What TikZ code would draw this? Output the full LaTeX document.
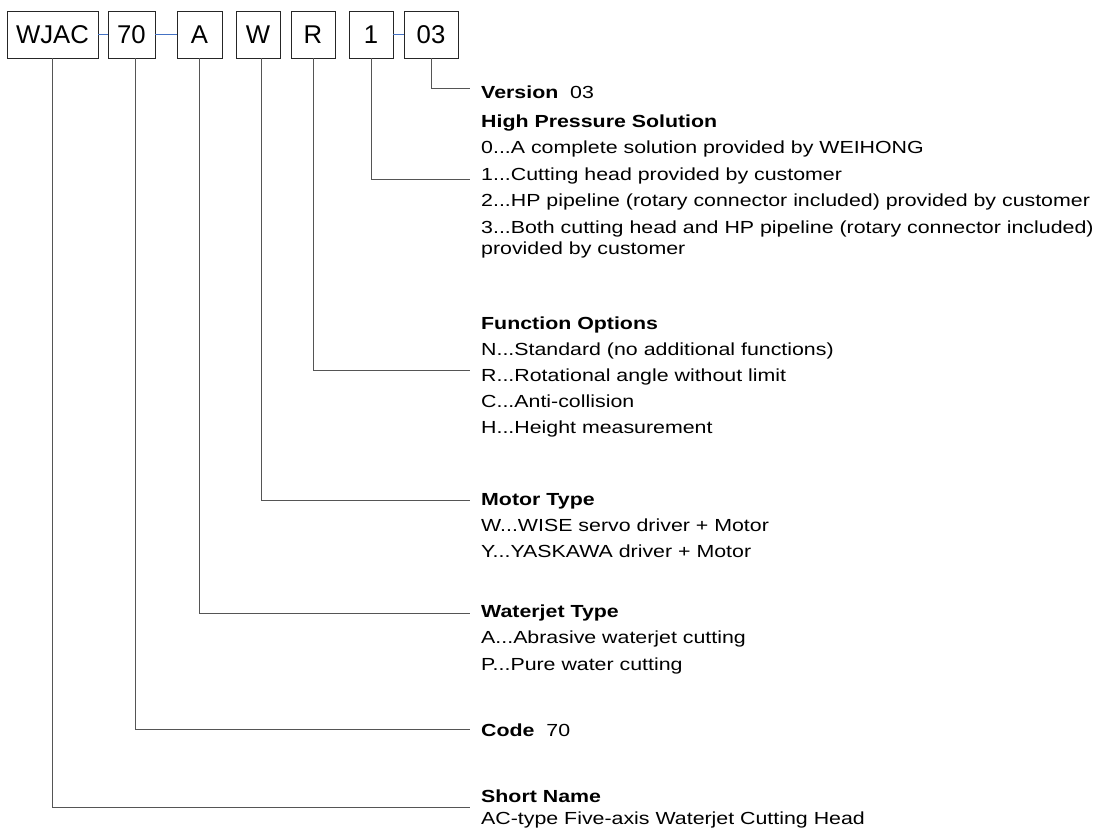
\documentclass[tikz,border=0pt]{standalone}
\usepackage{fontspec}
\setmainfont{Liberation Sans}
\newfontfamily\lblfont{Liberation Sans}[FakeStretch=1.22]
\definecolor{leadgray}{RGB}{85,85,85}
\definecolor{linkblue}{RGB}{68,114,196}
\tikzset{
  codebox/.style={draw=black!85, line width=0.9pt, minimum height=47pt, inner sep=0pt,
    font=\fontsize{25.7}{28}\selectfont},
  leader/.style={leadgray, line width=1pt},
  link/.style={linkblue, line width=0.9pt},
  lbl/.style={anchor=west, inner sep=0pt, text height=12.6pt, text depth=0pt,
    font=\lblfont\fontsize{17.5}{20}\selectfont}
}
\begin{document}
\begin{tikzpicture}[x=1pt,y=-1pt]
  \useasboundingbox (0,0) rectangle (1098,832);

  % --- 1. 型番の枠 ---
  \node[codebox, minimum width=91pt] (wjac)    at (52.5,34.5)  {WJAC};
  \node[codebox, minimum width=47pt] (seventy) at (131.5,34.5) {70};
  \node[codebox, minimum width=45pt] (jet)     at (199.5,34.5) {A};
  \node[codebox, minimum width=44pt] (motor)   at (258,34.5)   {W};
  \node[codebox, minimum width=44pt] (func)    at (313,34.5)   {R};
  \node[codebox, minimum width=44pt] (hpsol)   at (371,34.5)   {1};
  \node[codebox, minimum width=54pt] (ver)     at (431,34.5)   {03};
  % 枠どうしのハイフン
  \draw[link] (wjac) -- (seventy);
  \draw[link] (seventy) -- (jet);
  \draw[link] (hpsol) -- (ver);

  % --- 2. 説明文 ---
  \node[lbl] (verlbl) at (481,92) {\textbf{Version}\ \ 03};
  \node[lbl] (hpslbl) at (481,121) {\textbf{High Pressure Solution}};
  \node[lbl] (hpsa) at (481,147) {0...A complete solution provided by WEIHONG};
  \node[lbl] (hpsb) at (481,174) {1...Cutting head provided by customer};
  \node[lbl] (hpsc) at (481,200) {2...HP pipeline (rotary connector included) provided by customer};
  \node[lbl] (hpsd) at (481,227) {3...Both cutting head and HP pipeline (rotary connector included)};
  \node[lbl] (hpse) at (481,248) {provided by customer};

  \node[lbl] (funclbl) at (481,323) {\textbf{Function Options}};
  \node[lbl] (funca) at (481,349) {N...Standard (no additional functions)};
  \node[lbl] (funcb) at (481,375) {R...Rotational angle without limit};
  \node[lbl] (funcc) at (481,401) {C...Anti-collision};
  \node[lbl] (funcd) at (481,427) {H...Height measurement};

  \node[lbl] (motorlbl) at (481,499) {\textbf{Motor Type}};
  \node[lbl] (motora) at (481,525) {W...WISE servo driver + Motor};
  \node[lbl] (motorb) at (481,551) {Y...YASKAWA driver + Motor};

  \node[lbl] (jetlbl) at (481,611) {\textbf{Waterjet Type}};
  \node[lbl] (jeta) at (481,637) {A...Abrasive waterjet cutting};
  \node[lbl] (jetb) at (481,664) {P...Pure water cutting};

  \node[lbl] (codelbl) at (481,730) {\textbf{Code}\ \ 70};

  \node[lbl] (namelbl) at (481,796) {\textbf{Short Name}};
  \node[lbl] (namea) at (481,818) {AC-type Five-axis Waterjet Cutting Head};

  % --- 3. 引出線 ---
  \coordinate (verend)   at (470,89);
  \coordinate (hpsend)   at (470,180);
  \coordinate (funcend)  at (470,370);
  \coordinate (motorend) at (470,500);
  \coordinate (jetend)   at (470,613);
  \coordinate (codeend)  at (470,729);
  \coordinate (nameend)  at (470,807);
  \draw[leader] (ver.south) |- (verend);
  \draw[leader] (hpsol.south) |- (hpsend);
  \draw[leader] (func.south) |- (funcend);
  \draw[leader] ([xshift=3pt]motor.south) |- (motorend);
  \draw[leader] (jet.south) |- (jetend);
  \draw[leader] ([xshift=3.5pt]seventy.south) |- (codeend);
  \draw[leader] (wjac.south) |- (nameend);
\end{tikzpicture}
\end{document}
